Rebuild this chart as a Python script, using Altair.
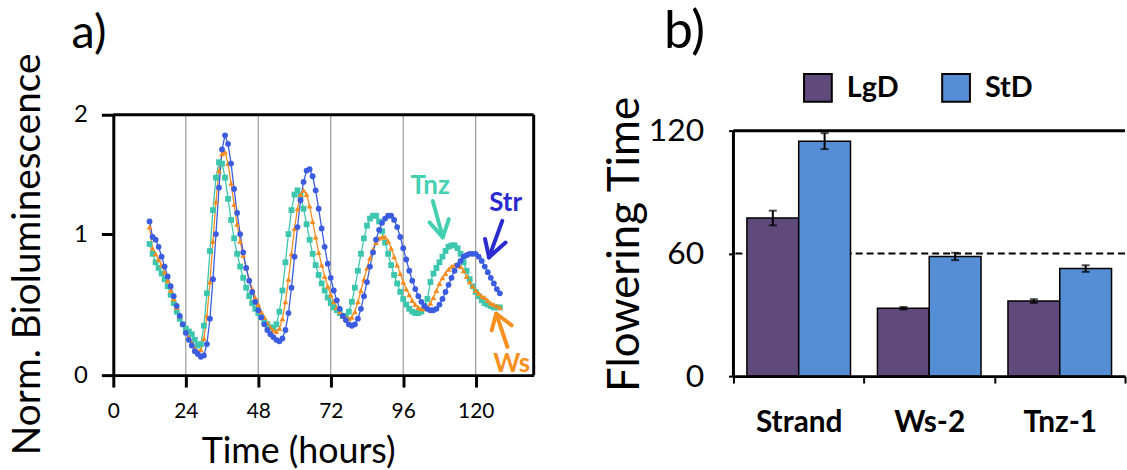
import altair as alt
import pandas as pd

# ---------------- Panel a data ----------------
hours = list(range(12, 129))

str_vals = [1.09, 0.98, 0.96, 0.91, 0.84, 0.77, 0.70, 0.63, 0.56, 0.49,
            0.42, 0.36, 0.30, 0.25, 0.21, 0.17, 0.15, 0.13, 0.14, 0.22,
            0.40, 0.68, 1.00, 1.33, 1.60, 1.70, 1.64, 1.50, 1.32, 1.15,
            1.00, 0.87, 0.76, 0.67, 0.59, 0.52, 0.46, 0.41, 0.36, 0.32,
            0.29, 0.27, 0.25, 0.24, 0.26, 0.32, 0.44, 0.62, 0.84, 1.05,
            1.24, 1.37, 1.45, 1.46, 1.41, 1.31, 1.18, 1.04, 0.91, 0.79,
            0.69, 0.60, 0.53, 0.47, 0.42, 0.39, 0.36, 0.35, 0.36, 0.40,
            0.47, 0.56, 0.66, 0.77, 0.87, 0.96, 1.03, 1.08, 1.11, 1.13,
            1.13, 1.10, 1.05, 0.98, 0.90, 0.82, 0.74, 0.67, 0.61, 0.56,
            0.52, 0.49, 0.47, 0.46, 0.46, 0.47, 0.50, 0.54, 0.59, 0.64,
            0.69, 0.74, 0.78, 0.81, 0.84, 0.85, 0.86, 0.86, 0.86, 0.84,
            0.81, 0.77, 0.73, 0.69, 0.65, 0.61, 0.58]

ws_vals = [1.05, 0.90, 0.86, 0.82, 0.78, 0.73, 0.67, 0.60, 0.54, 0.48,
           0.42, 0.36, 0.31, 0.27, 0.23, 0.19, 0.17, 0.18, 0.26, 0.42,
           0.66, 0.95, 1.23, 1.45, 1.57, 1.58, 1.50, 1.36, 1.21, 1.07,
           0.95, 0.85, 0.76, 0.68, 0.61, 0.55, 0.50, 0.45, 0.41, 0.37,
           0.34, 0.32, 0.31, 0.33, 0.40, 0.52, 0.68, 0.86, 1.04, 1.18,
           1.28, 1.31, 1.28, 1.20, 1.09, 0.98, 0.87, 0.78, 0.70, 0.63,
           0.57, 0.52, 0.48, 0.45, 0.42, 0.41, 0.40, 0.41, 0.45, 0.52,
           0.60, 0.68, 0.76, 0.83, 0.89, 0.94, 0.97, 0.98, 0.98, 0.95,
           0.90, 0.84, 0.78, 0.72, 0.66, 0.61, 0.57, 0.53, 0.50, 0.48,
           0.47, 0.47, 0.48, 0.51, 0.55, 0.60, 0.65, 0.69, 0.72, 0.75,
           0.77, 0.78, 0.78, 0.77, 0.74, 0.70, 0.66, 0.63, 0.60, 0.58,
           0.56, 0.55, 0.53, 0.51, 0.50, 0.49, 0.48]

tnz_vals = [0.93, 0.86, 0.80, 0.76, 0.72, 0.68, 0.63, 0.57, 0.51, 0.45,
            0.40, 0.36, 0.33, 0.31, 0.29, 0.25, 0.21, 0.22, 0.35, 0.58,
            0.88, 1.17, 1.40, 1.51, 1.50, 1.40, 1.25, 1.10, 0.97, 0.86,
            0.77, 0.69, 0.62, 0.56, 0.51, 0.47, 0.44, 0.41, 0.38, 0.36,
            0.34, 0.33, 0.36, 0.45, 0.60, 0.80, 1.00, 1.17, 1.28, 1.31,
            1.27, 1.18, 1.07, 0.96, 0.86, 0.78, 0.71, 0.65, 0.60, 0.55,
            0.51, 0.48, 0.46, 0.44, 0.42, 0.42, 0.45, 0.52, 0.62, 0.74,
            0.86, 0.97, 1.06, 1.11, 1.13, 1.13, 1.09, 1.02, 0.94, 0.86,
            0.78, 0.71, 0.65, 0.59, 0.54, 0.50, 0.47, 0.45, 0.44, 0.44,
            0.45, 0.49, 0.54, 0.66, 0.72, 0.76, 0.80, 0.84, 0.88, 0.91,
            0.92, 0.92, 0.90, 0.86, 0.80, 0.74, 0.68, 0.63, 0.59, 0.56,
            0.53, 0.51, 0.50, 0.49, 0.48, 0.48, 0.48]

series_names = ["Tnz", "Ws", "Str"]
series_colors = ["#3DC6AE", "#F68B1F", "#3B5CE0"]
series_shapes = ["square", "triangle-up", "circle"]
series_values = [tnz_vals, ws_vals, str_vals]

x_domain_a = [0, 139.2]
y_domain_a = [0, 1.846]
x_ticks_a = [0, 24, 48, 72, 96, 120]
y_ticks_a = [0, 1, 1.846]
grid_hours = [24, 48, 72, 96, 120]

# annotation labels (data coords)
ann_labels = ["Tnz", "Str", "Ws"]
ann_t = [104.9, 129.9, 131.9]
ann_v = [1.34, 1.22, 0.08]
ann_colors = ["#45D0B2", "#2B2BCF", "#F7901E"]

# arrow segments (shaft + two wings), data coords
arr_t1 = [105.8, 104.7, 111.1, 128.8, 123.1, 129.9, 130.5, 125.3, 131.9]
arr_v1 = [1.235, 1.083, 1.106, 1.094, 0.965, 0.94, 0.20, 0.318, 0.353]
arr_t2 = [109.1, 109.1, 109.1, 124.4, 124.4, 124.4, 126.8, 126.8, 126.8]
arr_v2 = [0.977, 0.977, 0.977, 0.835, 0.835, 0.835, 0.435, 0.435, 0.435]
arr_colors = ["#45D0B2"] * 3 + ["#2B2BCF"] * 3 + ["#F7901E"] * 3

# ---------------- Panel b data ----------------
groups = ["Strand", "Ws-2", "Tnz-1"]
conditions = ["LgD", "StD"]
cond_colors = ["#604A7B", "#558ED5"]
lgd_vals = [77.3, 33.2, 36.7]
lgd_err = [3.6, 0.6, 0.9]
std_vals = [114.9, 58.5, 52.6]
std_err = [3.9, 1.8, 1.6]
y_ticks_b = [0, 60, 120]
ref_line = [60]
top_line = [120]

# ---------------- build tables ----------------
rows = []
for name, vals in zip(series_names, series_values):
    for t, v in zip(hours, vals):
        rows.append({"t": t, "v": v, "series": name})
df_a = pd.DataFrame(rows)

df_ann = pd.DataFrame({"t": ann_t, "v": ann_v, "label": ann_labels, "c": ann_colors})
df_arr = pd.DataFrame({"t1": arr_t1, "v1": arr_v1, "t2": arr_t2, "v2": arr_v2, "c": arr_colors})
df_grid = pd.DataFrame({"t": grid_hours})
df_frame_top = pd.DataFrame({"v": [y_domain_a[1]]})
df_frame_right = pd.DataFrame({"t": [x_domain_a[1]]})

rows_b = []
for g, a, ae, s, se in zip(groups, lgd_vals, lgd_err, std_vals, std_err):
    rows_b.append({"group": g, "cond": "LgD", "value": a, "lo": a - ae, "hi": a + ae})
    rows_b.append({"group": g, "cond": "StD", "value": s, "lo": s - se, "hi": s + se})
df_b = pd.DataFrame(rows_b)

FONT = "Lato"

# ---------------- Panel a ----------------
x_axis_a = alt.Axis(values=x_ticks_a, grid=False, title="Time (hours)",
                    titleFontSize=36, titleFontWeight="normal", titlePadding=13,
                    titleX=186, titleAlign="center",
                    labelFontSize=21, labelPadding=14, tickSize=12, tickWidth=3,
                    domain=True, ticks=True, zindex=1,
                    domainWidth=3, domainColor="black", tickColor="black",
                    labelColor="black", titleColor="black", labelFlush=False)
y_axis_a = alt.Axis(values=y_ticks_a, grid=False,
                    labelExpr="datum.value > 1.5 ? '2' : (datum.value > 0.5 ? '1' : '0')",
                    title="Norm.  Bioluminescence", titleFontSize=39,
                    titleFontWeight="normal", titlePadding=26, titleY=140,
                    labelFontSize=24, labelPadding=14, tickSize=12, tickWidth=3,
                    domain=True, ticks=True, zindex=1,
                    domainWidth=3, domainColor="black", tickColor="black",
                    labelColor="black", titleColor="black", labelFlush=False)
xs_a = alt.Scale(domain=x_domain_a, nice=False, zero=False)
ys_a = alt.Scale(domain=y_domain_a, nice=False)

def xa(field):
    return alt.X(field, scale=xs_a, axis=x_axis_a)

def ya(field):
    return alt.Y(field, scale=ys_a, axis=y_axis_a)

col_scale = alt.Scale(domain=series_names, range=series_colors)
shape_scale = alt.Scale(domain=series_names, range=series_shapes)

grid_a = alt.Chart(df_grid).mark_rule(color="#9A9A9A", strokeWidth=1.2).encode(x=xa("t:Q"))
frame_top_a = alt.Chart(df_frame_top).mark_rule(color="black", strokeWidth=3).encode(y=ya("v:Q"))
frame_right_a = alt.Chart(df_frame_right).mark_rule(color="black", strokeWidth=3).encode(x=xa("t:Q"))

lines_a = alt.Chart(df_a).mark_line(strokeWidth=1.3).encode(
    x=xa("t:Q"), y=ya("v:Q"),
    color=alt.Color("series:N", scale=col_scale, legend=None),
    detail="series:N",
)
points_a = alt.Chart(df_a).mark_point(filled=True, size=34, opacity=1).encode(
    x=xa("t:Q"), y=ya("v:Q"),
    color=alt.Color("series:N", scale=col_scale, legend=None),
    shape=alt.Shape("series:N", scale=shape_scale, legend=None),
)
arrows_a = alt.Chart(df_arr).mark_rule(strokeWidth=4, strokeCap="round").encode(
    x=xa("t1:Q"), y=ya("v1:Q"), x2="t2:Q", y2="v2:Q",
    color=alt.Color("c:N", scale=None),
)
text_a = alt.Chart(df_ann).mark_text(fontSize=26, fontWeight="bold", font=FONT).encode(
    x=xa("t:Q"), y=ya("v:Q"), text="label:N",
    color=alt.Color("c:N", scale=None),
)

panel_a = alt.layer(grid_a, lines_a, points_a, arrows_a, text_a,
                    frame_top_a, frame_right_a).properties(
    width=423, height=262,
    title=alt.TitleParams("a)", anchor="start", frame="group", dx=-42,
                          fontSize=47, fontWeight="normal", font=FONT,
                          color="black", offset=-10),
)

# ---------------- Panel b ----------------
x_axis_b = alt.Axis(title=None, labelAngle=0, labelFontSize=30, labelFontWeight="bold",
                    labelPadding=25, tickBand="extent", tickSize=7, tickWidth=2,
                    domain=True, ticks=True, zindex=1,
                    domainWidth=3, domainColor="black", tickColor="black",
                    labelColor="black")
xs_b = alt.Scale(paddingInner=0, paddingOuter=0)
xos_b = alt.Scale(paddingInner=0, paddingOuter=0.26)
y_axis_b = alt.Axis(values=y_ticks_b, grid=False, domain=False, ticks=True, zindex=1,
                    title="Flowering Time", titleFontSize=44, titleFontWeight="normal",
                    titlePadding=1, titleY=130, labelFontSize=32, labelPadding=25,
                    tickSize=5, tickWidth=2, tickColor="black",
                    labelColor="black", titleColor="black")
ys_b = alt.Scale(domain=[0, 127.8], nice=False)

def xb():
    return alt.X("group:N", sort=groups, scale=xs_b, axis=x_axis_b)

def xob():
    return alt.XOffset("cond:N", sort=conditions, scale=xos_b)

def yb(field):
    return alt.Y(field, scale=ys_b, axis=y_axis_b)

ref_b = alt.Chart(pd.DataFrame({"y": ref_line})).mark_rule(
    color="black", strokeWidth=2, strokeDash=[7, 4]).encode(y=yb("y:Q"))
top_b = alt.Chart(pd.DataFrame({"y": top_line})).mark_rule(
    color="black", strokeWidth=3).encode(y=yb("y:Q"))
left_b = alt.Chart(pd.DataFrame({"y": [0], "y2": top_line})).mark_rule(
    color="black", strokeWidth=3).encode(x=alt.value(0), y=yb("y:Q"), y2="y2:Q")

bars_b = alt.Chart(df_b).mark_bar(stroke="black", strokeWidth=1.5, opacity=1).encode(
    x=xb(), xOffset=xob(), y=yb("value:Q"),
    color=alt.Color("cond:N", sort=conditions,
                    scale=alt.Scale(domain=conditions, range=cond_colors),
                    legend=alt.Legend(title=None, orient="none", direction="horizontal",
                                      legendX=70, legendY=-42, symbolType="square",
                                      symbolSize=780, symbolStrokeColor="black",
                                      symbolStrokeWidth=2, labelFontSize=29,
                                      labelFontWeight="bold", labelColor="black",
                                      labelOffset=14, columnPadding=39, padding=0,
                                      symbolOpacity=1)),
)
err_b = alt.Chart(df_b).mark_rule(color="black", strokeWidth=2).encode(
    x=xb(), xOffset=xob(), y=yb("lo:Q"), y2="hi:Q")
cap_lo = alt.Chart(df_b).mark_tick(color="black", thickness=2, size=8).encode(
    x=xb(), xOffset=xob(), y=yb("lo:Q"))
cap_hi = alt.Chart(df_b).mark_tick(color="black", thickness=2, size=8).encode(
    x=xb(), xOffset=xob(), y=yb("hi:Q"))

panel_b = alt.layer(ref_b, bars_b, top_b, left_b, err_b, cap_lo, cap_hi).properties(
    width=394, height=263,
    title=alt.TitleParams("b)", anchor="start", frame="group", dx=-70,
                          fontSize=52, fontWeight="normal", font=FONT,
                          color="black", offset=14),
)

chart = alt.hconcat(panel_a, panel_b, spacing=201, bounds="flush").resolve_scale(
    color="independent", shape="independent"
).properties(
    padding={"left": 9, "top": 5, "right": 0, "bottom": 0},
).configure(font=FONT).configure_view(strokeWidth=0)

chart.save("out.html", embed_options={"renderer": "svg", "actions": False})
